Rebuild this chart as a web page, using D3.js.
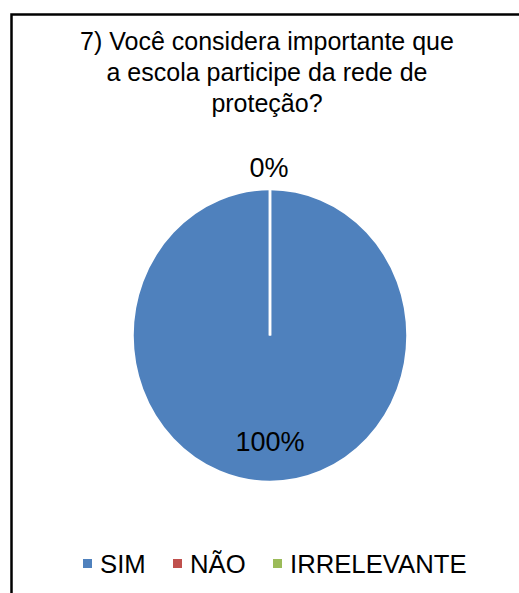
<!doctype html>
<html>
<head>
<meta charset="utf-8">
<script src="https://d3js.org/d3.v7.min.js"></script>
<style>
body {margin: 0; background: #fff;}
text {font-family: "Liberation Sans", Arial, sans-serif; fill: #000;}
</style>
</head>
<body>
<svg width="519" height="593" class="chart"></svg>
<script>
// data
var categories = ["SIM", "NÃO", "IRRELEVANTE"];
var values = [100, 0, 0];
var colors = ["#4F81BD", "#C0504D", "#9BBB59"];
var titleLines = ["7) Você considera importante que", "a escola participe da rede de", "proteção?"];

var svg = d3.select(".chart");

// frame (cut off at right and bottom like the original)
svg.append("rect")
  .attr("x", 11.5).attr("y", 14.5)
  .attr("width", 700).attr("height", 800)
  .style("fill", "none")
  .style("stroke", "#000")
  .style("stroke-width", 2.5);

// title
svg.append("g").selectAll("text")
  .data(titleLines)
  .enter().append("text")
  .attr("x", 267)
  .attr("y", function(d, i) { return 50 + i * 31; })
  .attr("text-anchor", "middle")
  .style("font-size", "25px")
  .text(function(d) { return d; });

var cx = 270, cy = 335.5, rx = 137.5, ry = 146.5;
var total = d3.sum(values);

var pie = d3.pie().sort(null).value(function(d) { return d; });
var arc = d3.arc().innerRadius(0).outerRadius(rx);
var arcs = pie(values);

var g = svg.append("g")
  .attr("transform", "translate(" + cx + "," + cy + ") scale(1," + (ry / rx) + ")");

g.selectAll("path")
  .data(arcs)
  .enter().append("path")
  .attr("d", arc)
  .style("fill", function(d, i) { return colors[i]; })
  .style("stroke", "#fff")
  .style("stroke-width", 2.5);

// data labels: 100% inside near the bottom, 0% above the top
var fmt = function(v) { return Math.round(v / total * 100) + "%"; };
svg.append("text")
  .attr("x", cx)
  .attr("y", 451)
  .attr("text-anchor", "middle")
  .style("font-size", "27px")
  .text(fmt(values[0]));

svg.append("text")
  .attr("x", cx - 1)
  .attr("y", 177)
  .attr("text-anchor", "middle")
  .style("font-size", "27px")
  .text(fmt(values[1]));

// legend
var legendX = [83, 173, 273];
var legend = svg.append("g").selectAll("g")
  .data(categories)
  .enter().append("g")
  .attr("transform", function(d, i) { return "translate(" + legendX[i] + ",559)"; });

legend.append("rect")
  .attr("width", 9).attr("height", 9)
  .style("fill", function(d, i) { return colors[i]; });

legend.append("text")
  .attr("x", 17)
  .attr("y", 13.5)
  .style("font-size", "25.7px")
  .text(function(d) { return d; });
</script>
</body>
</html>
